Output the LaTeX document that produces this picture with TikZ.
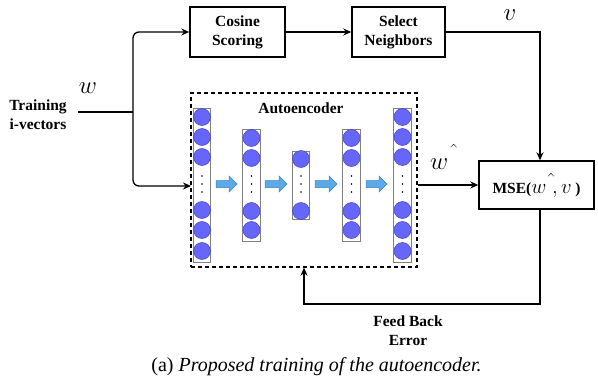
\documentclass[tikz,border=0pt]{standalone}
\usepackage{fontspec}
\setmainfont{Liberation Serif}
\usetikzlibrary{arrows.meta}
\definecolor{circfill}{RGB}{102,102,250}
\definecolor{circdraw}{RGB}{70,70,200}
\definecolor{barrow}{RGB}{90,170,232}
\definecolor{barrowd}{RGB}{60,130,200}
\newcommand{\whatc}[3]{w\mkern#1mu\raisebox{#2}{\fontsize{#3}{#3}\selectfont$\hat{}$}}
\begin{document}
\begin{tikzpicture}[x=1pt,y=-1pt,
  lbl/.style={font=\fontsize{15.5}{19}\selectfont\bfseries, align=center, inner sep=0},
  procbox/.style={draw, line width=1.4pt, fill=white, lbl},
  conn/.style={line width=1.3pt, -{Stealth[length=8pt,width=7pt]}},
  plainline/.style={line width=1.3pt},
  bigmath/.style={font=\fontsize{28}{30}\selectfont, inner sep=0},
  colbox/.style={draw=gray, line width=0.9pt, fill=white},
  neuron/.style={circle, fill=circfill, draw=circdraw, line width=0.5pt, minimum size=17pt, inner sep=0},
  blkarrow/.style={fill=barrow, draw=barrowd, line width=0.5pt}
]
\useasboundingbox (0,0) rectangle (598,388);

% text and boxes
\node[lbl] (train) at (38,114.5) {Training\\i-vectors};
\node[procbox, minimum width=95pt, minimum height=50pt] (cos) at (237.5,32) {Cosine\\Scoring};
\node[procbox, minimum width=93pt, minimum height=50pt] (sel) at (398.5,32) {Select\\Neighbors};
\node[draw, line width=1.4pt, minimum width=115pt, minimum height=48pt, inner sep=0] (mse) at (536.5,185)
  {\fontsize{15.5}{19}\selectfont\bfseries MSE(\fontsize{21}{24}\selectfont$\whatc{4}{3pt}{26}\mkern1mu,v\,$\fontsize{15.5}{19}\selectfont\bfseries)};
\node[draw, dashed, line width=1.3pt, dash pattern=on 4pt off 3pt, minimum width=226pt, minimum height=174pt, inner sep=0] (ae) at (304,180) {};
\node[lbl] (aelbl) at (301,108) {Autoencoder};

% columns
\foreach \cx/\top/\bot/\ys in {
  202/108/262/{117,137,157,210,230,251},
  251.5/129/241/{138,158,211,230},
  301/151/219/{159,211},
  351.5/129/241/{138,158,211,230},
  402.5/108/262/{117,137,157,210,230,251}} {
  \path[colbox] (\cx-8.8,\top) rectangle (\cx+8.8,\bot);
  \foreach \y in \ys { \node[neuron] at (\cx,\y) {}; }
  \foreach \y in {176,184,192} { \fill (\cx,\y) circle (0.9pt); }
}
% block arrows
\foreach \xa/\xb in {216/237, 265/287, 315/337, 366/387} {
  \path[blkarrow] (\xa,180.5) -- (\xb-8,180.5) -- (\xb-8,176) -- (\xb,184) -- (\xb-8,192) -- (\xb-8,187.5) -- (\xa,187.5) -- cycle;
}

% labels
\node[bigmath] (wlbl) at (88,88) {$w$};
\node[bigmath] (vlbl) at (510,15) {$v$};
\node[bigmath, anchor=base west] (whlbl) at (430,169) {$\whatc{4}{8pt}{34}$};
\node[lbl] (fb) at (408,331) {Feed Back\\Error};
\node[inner sep=0, font=\fontsize{20}{24}\selectfont] (cap) at (316.5,367) {(a) \textit{Proposed training of the autoencoder.}};

% connectors
\coordinate (tin) at (78,112);
\coordinate (split) at (133,112);
\coordinate (aein) at (191,186);
\coordinate (c1) at (540,32);
\coordinate (c2) at (540,304);
\draw[plainline] (tin) -- (split);
\draw[conn, rounded corners=6pt] (split) |- (cos.west);
\draw[conn, rounded corners=6pt] (split) |- (aein);
\draw[conn] (cos.east) -- (sel.west);
\draw[conn] (sel.east) -- (c1) -- (c1 |- mse.north);
\draw[conn] (ae.east |- 0,185) -- (mse.west |- 0,185);
\draw[conn] (c1 |- mse.south) -- (c2) -| (ae.south);
\end{tikzpicture}
\end{document}
